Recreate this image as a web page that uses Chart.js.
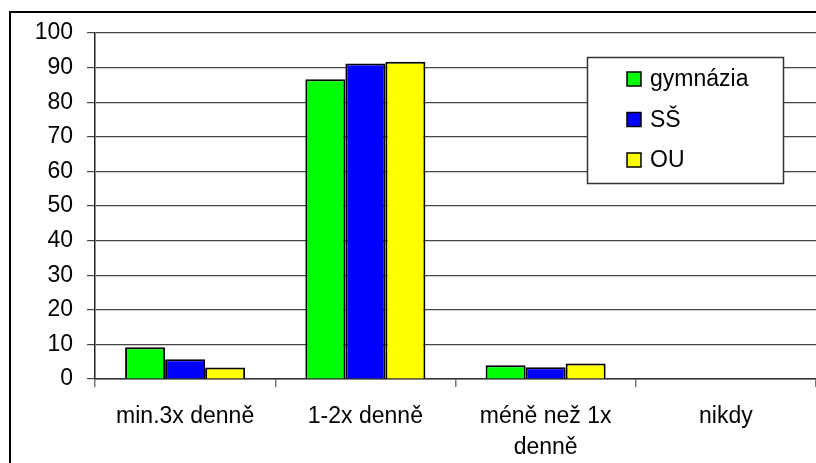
<!DOCTYPE html>
<html>
<head>
<meta charset="utf-8">
<script src="https://cdn.jsdelivr.net/npm/chart.js@4/dist/chart.umd.min.js"></script>
<style>
  html, body { margin:0; padding:0; background:#fff; }
  #wrap { width:816px; height:463px; }
</style>
</head>
<body>
<div id="wrap"><canvas id="c" width="816" height="463"></canvas></div>
<script>
// data
const categories = ['min.3x denně', '1-2x denně', ['méně než 1x', 'denně'], 'nikdy'];
const seriesNames = ['gymnázia', 'SŠ', 'OU'];
const gymnazia = [9.2, 86.6, 4.0, 0];
const ss       = [5.7, 91.2, 3.4, 0];
const ou       = [3.3, 91.7, 4.5, 0];
const yTicks   = [0, 10, 20, 30, 40, 50, 60, 70, 80, 90, 100];
const colors   = ['#00ff00', '#0000ff', '#ffff00'];

const FONT = "'Liberation Sans', Arial, sans-serif";

// outer frame + white background
const framePlugin = {
  id: 'frame',
  beforeDraw(chart) {
    const ctx = chart.ctx;
    ctx.save();
    ctx.fillStyle = '#fff';
    ctx.fillRect(0, 0, chart.width, chart.height);
    ctx.strokeStyle = '#000';
    ctx.lineWidth = 2;
    ctx.beginPath();
    ctx.moveTo(10, chart.height);
    ctx.lineTo(10, 12);
    ctx.lineTo(chart.width, 12);
    ctx.stroke();
    ctx.restore();
  }
};

// boxed legend in the upper right of the plot
const boxLegend = {
  id: 'boxLegend',
  afterDatasetsDraw(chart) {
    const ctx = chart.ctx;
    ctx.save();
    ctx.fillStyle = '#fff';
    ctx.fillRect(587, 57, 196, 126);
    ctx.strokeStyle = '#333';
    ctx.lineWidth = 1.5;
    ctx.strokeRect(587.5, 57.5, 196, 126);
    ctx.font = '23px ' + FONT;
    ctx.textBaseline = 'middle';
    chart.data.datasets.forEach((ds, i) => {
      const cy = 79 + i * 40.5;
      ctx.fillStyle = ds.backgroundColor;
      ctx.fillRect(627, cy - 7, 14, 14);
      ctx.strokeStyle = '#000';
      ctx.lineWidth = 1.5;
      ctx.strokeRect(627, cy - 7, 14, 14);
      ctx.fillStyle = '#000';
      ctx.fillText(ds.label, 650, cy + 1);
    });
    ctx.restore();
  }
};

const mkSet = (i, data) => ({
  label: seriesNames[i],
  data,
  backgroundColor: colors[i],
  borderColor: '#000',
  borderWidth: 2,
  categoryPercentage: 0.666,
  barPercentage: 1
});

new Chart(document.getElementById('c'), {
  type: 'bar',
  data: {
    labels: categories,
    datasets: [mkSet(0, gymnazia), mkSet(1, ss), mkSet(2, ou)]
  },
  options: {
    responsive: false,
    devicePixelRatio: 1,
    animation: false,
    layout: { padding: { top: 33, left: 0, right: 0, bottom: 0 } },
    plugins: { legend: { display: false }, tooltip: { enabled: false } },
    scales: {
      x: {
        offset: true,
        grid: { offset: true, drawOnChartArea: false, drawTicks: true, tickLength: 8, color: '#777', lineWidth: 1.5 },
        border: { color: '#333', width: 1.5 },
        ticks: {
          color: '#000', padding: 14, maxRotation: 0, autoSkip: false,
          font: { family: FONT, size: 23, lineHeight: 1.35 }
        },
        afterFit(scale) { scale.height = 84; }
      },
      y: {
        min: 0, max: 100,
        afterBuildTicks(scale) { scale.ticks = yTicks.map(v => ({ value: v })); },
        grid: { color: '#444', lineWidth: 1.2, tickLength: 8 },
        border: { color: '#222', width: 1.5 },
        ticks: { color: '#000', padding: 14, font: { family: FONT, size: 23 } },
        afterFit(scale) { scale.width = 95; }
      }
    }
  },
  plugins: [framePlugin, boxLegend]
});
</script>
</body>
</html>
